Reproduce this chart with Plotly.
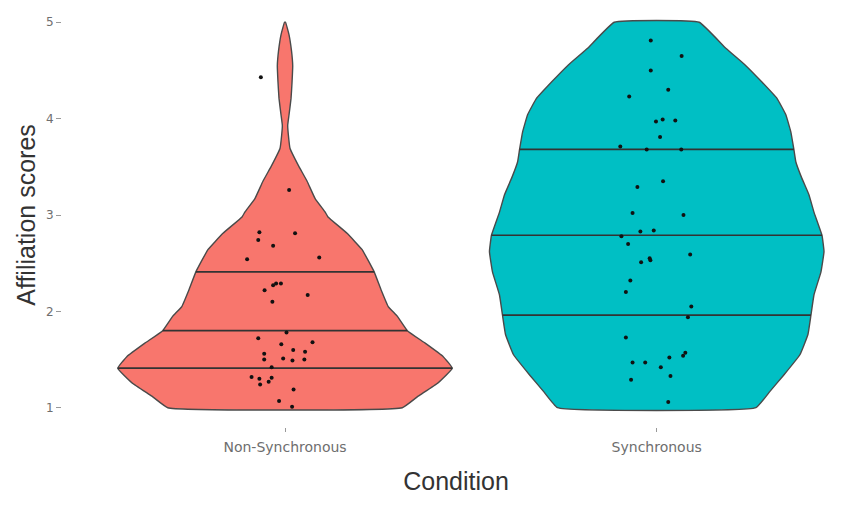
import numpy as np
import plotly.graph_objects as go

# ---------------- data ----------------
categories = ["Non-Synchronous", "Synchronous"]
fill_colors = ["#F8766D", "#00BFC4"]

# violin density profiles (score level, relative half-width 0..1)
nonsync_levels = [5.00, 4.87, 4.70, 4.55, 4.38, 4.21, 4.04, 3.93, 3.83, 3.69, 3.52, 3.35, 3.17,
                  3.03, 2.98, 2.81, 2.64, 2.41, 2.22, 2.05, 1.95, 1.80, 1.67, 1.53, 1.41, 1.26,
                  1.12, 1.00]
nonsync_density = [0.003, 0.024, 0.039, 0.046, 0.042, 0.036, 0.024, 0.016, 0.020, 0.030, 0.078,
                   0.132, 0.180, 0.240, 0.257, 0.371, 0.461, 0.533, 0.575, 0.617, 0.671, 0.731,
                   0.838, 0.946, 1.000, 0.916, 0.796, 0.701]

sync_levels = [5.00, 4.73, 4.55, 4.38, 4.21, 4.04, 3.86, 3.68, 3.55, 3.38, 3.21, 3.03, 2.79,
               2.62, 2.41, 2.17, 1.96, 1.76, 1.55, 1.34, 1.17, 1.00]
sync_density = [0.254, 0.413, 0.533, 0.629, 0.719, 0.772, 0.802, 0.820, 0.832, 0.868, 0.910,
                0.940, 0.988, 1.000, 0.982, 0.940, 0.922, 0.904, 0.856, 0.760, 0.677, 0.593]

# quartiles (25%, 50%, 75%)
nonsync_quartiles = [1.41, 1.80, 2.41]
sync_quartiles = [1.96, 2.79, 3.68]

# jittered observations: horizontal jitter and score
nonsync_jitter = [-0.065, 0.011, -0.069, -0.072, 0.027, -0.032, -0.102, 0.092, -0.032, -0.024,
                  -0.011, -0.055, 0.061, -0.034, 0.004, -0.072, -0.010, 0.074, 0.022, 0.054,
                  -0.056, -0.056, -0.005, 0.020, 0.052, -0.036, -0.090, -0.069, -0.036, -0.044,
                  -0.067, 0.023, -0.016, 0.019]
nonsync_scores = [4.43, 3.26, 2.82, 2.74, 2.81, 2.68, 2.54, 2.56, 2.27, 2.29,
                  2.29, 2.22, 2.17, 2.10, 1.78, 1.72, 1.66, 1.68, 1.60, 1.58,
                  1.56, 1.50, 1.51, 1.49, 1.50, 1.42, 1.32, 1.30, 1.31, 1.27,
                  1.24, 1.19, 1.07, 1.01]

sync_jitter = [-0.016, 0.067, -0.016, 0.031, -0.074, -0.002, 0.016, 0.050, 0.009, -0.098,
               -0.027, 0.066, 0.017, -0.052, -0.065, 0.072, -0.044, -0.008, -0.095, -0.077,
               0.090, -0.019, -0.017, -0.042, -0.071, -0.083, 0.093, 0.084, -0.083, 0.077,
               0.071, 0.034, -0.065, -0.031, 0.011, -0.069, 0.037, 0.031]
sync_scores = [4.81, 4.65, 4.50, 4.30, 4.23, 3.97, 3.99, 3.98, 3.81, 3.71,
               3.68, 3.68, 3.35, 3.29, 3.02, 3.00, 2.83, 2.84, 2.78, 2.70,
               2.59, 2.55, 2.53, 2.51, 2.32, 2.20, 2.05, 1.94, 1.73, 1.57,
               1.54, 1.52, 1.47, 1.47, 1.42, 1.29, 1.33, 1.06]

y_ticks = [1, 2, 3, 4, 5]

# ---------------- figure ----------------
HALF = 0.45  # half of violin width
fig = go.Figure()

groups = [
    (nonsync_levels, nonsync_density, nonsync_quartiles, nonsync_jitter, nonsync_scores),
    (sync_levels, sync_density, sync_quartiles, sync_jitter, sync_scores),
]

for i, (lev, dens, qs, jit, sc) in enumerate(groups):
    c = i + 1
    lev = np.asarray(lev, float)
    dens = np.asarray(dens, float)
    # right side (top -> bottom), then left side (bottom -> top)
    xs = np.concatenate([c + HALF * dens, (c - HALF * dens)[::-1]])
    ys = np.concatenate([lev, lev[::-1]])
    xs = np.append(xs, xs[0])
    ys = np.append(ys, ys[0])
    fig.add_trace(go.Scatter(
        x=xs, y=ys, mode="lines", fill="toself", fillcolor=fill_colors[i],
        line=dict(color="#4a4a4a", width=1.4, shape="spline", smoothing=0.3),
        hoverinfo="skip", showlegend=False,
    ))
    order = np.argsort(lev)
    for q in qs:
        w = HALF * np.interp(q, lev[order], dens[order])
        fig.add_trace(go.Scatter(
            x=[c - w, c + w], y=[q, q], mode="lines",
            line=dict(color="#333333", width=1.7), hoverinfo="skip", showlegend=False,
        ))
    fig.add_trace(go.Scatter(
        x=[c + j for j in jit], y=sc, mode="markers",
        marker=dict(color="#111111", size=4), showlegend=False,
    ))

fig.update_layout(
    width=850, height=506,
    margin=dict(l=62, r=0, t=3, b=79),
    paper_bgcolor="white", plot_bgcolor="white",
    font=dict(family="Liberation Sans, Arial, sans-serif"),
)
fig.update_xaxes(
    range=[0.4, 0.4 + 788 / 371.7], tickmode="array", tickvals=[1, 2], ticktext=categories,
    showgrid=False, zeroline=False, showline=False, automargin=False,
    ticks="outside", ticklen=4, tickcolor="#999999", tickwidth=1, ticklabelstandoff=3,
    tickfont=dict(family="DejaVu Sans", size=14, color="#6e6e6e"),
    title=dict(text="Condition", font=dict(size=25, color="#333333"), standoff=18),
)
fig.update_yaxes(
    range=[0.8, 5.2], tickmode="array", tickvals=y_ticks,
    showgrid=False, zeroline=False, showline=False, automargin=False,
    ticks="outside", ticklen=5, tickcolor="#999999", tickwidth=1,
    tickfont=dict(family="DejaVu Sans", size=12, color="#6e6e6e"),
    title=dict(text="Affiliation scores", font=dict(size=25, color="#333333"), standoff=3),
)

fig.write_html("out.html", config={"displayModeBar": False},
               post_script="document.body.style.margin='0';")
